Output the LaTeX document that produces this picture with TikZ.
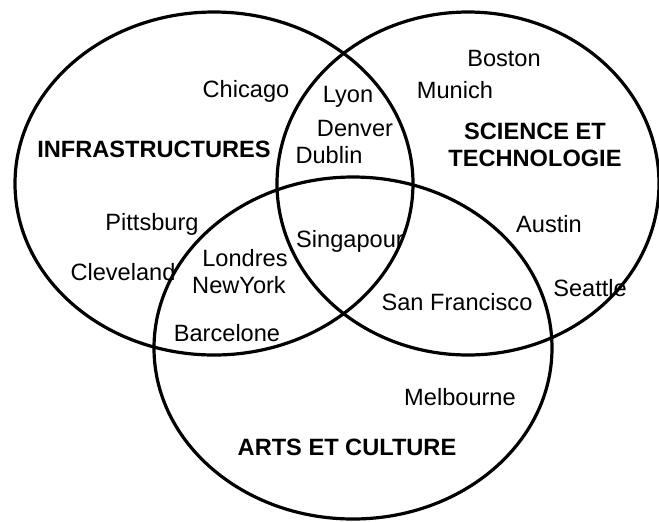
\documentclass[tikz,border=0pt]{standalone}
\usepackage{fontspec}
\setmainfont{Liberation Sans}
\usepackage{tikz}

\begin{document}
\begin{tikzpicture}[x=0.5pt, y=-0.5pt, line width=1.6pt,
    city/.style={font=\fontsize{11.8}{13}\selectfont, inner sep=0pt},
    theme/.style={font=\fontsize{11.8}{13.6}\selectfont\bfseries, align=center, inner sep=0pt}]
    \useasboundingbox (0, 0) rectangle (659, 521);
    \draw (214, 183.5) ellipse [x radius=199, y radius=171.5];
    \draw (468, 183.5) ellipse [x radius=191, y radius=171.5];
    \draw (353, 348) ellipse [x radius=199, y radius=171];
    \node[theme] (infra) at (154, 149) {INFRASTRUCTURES};
    \node[theme] (science) at (535, 144.5) {SCIENCE ET\\TECHNOLOGIE};
    \node[theme] (arts) at (347, 447) {ARTS ET CULTURE};
    \node[city] (chicago) at (246, 91) {Chicago};
    \node[city] (pittsburg) at (152, 224) {Pittsburg};
    \node[city] (cleveland) at (123, 272) {Cleveland};
    \node[city] (lyon) at (348, 97) {Lyon};
    \node[city] (denver) at (355, 128) {Denver};
    \node[city] (dublin) at (329, 155) {Dublin};
    \node[city] (boston) at (504, 58) {Boston};
    \node[city] (munich) at (455, 90) {Munich};
    \node[city] (austin) at (549, 224) {Austin};
    \node[city] (seattle) at (590, 288) {Seattle};
    \node[city] (singapour) at (350, 241) {Singapour};
    \node[city] (londres) at (245, 258) {Londres};
    \node[city] (newyork) at (239, 285) {NewYork};
    \node[city] (barcelone) at (227, 333) {Barcelone};
    \node[city] (sanfrancisco) at (457, 302) {San Francisco};
    \node[city] (melbourne) at (460, 397) {Melbourne};
\end{tikzpicture}
\end{document}
